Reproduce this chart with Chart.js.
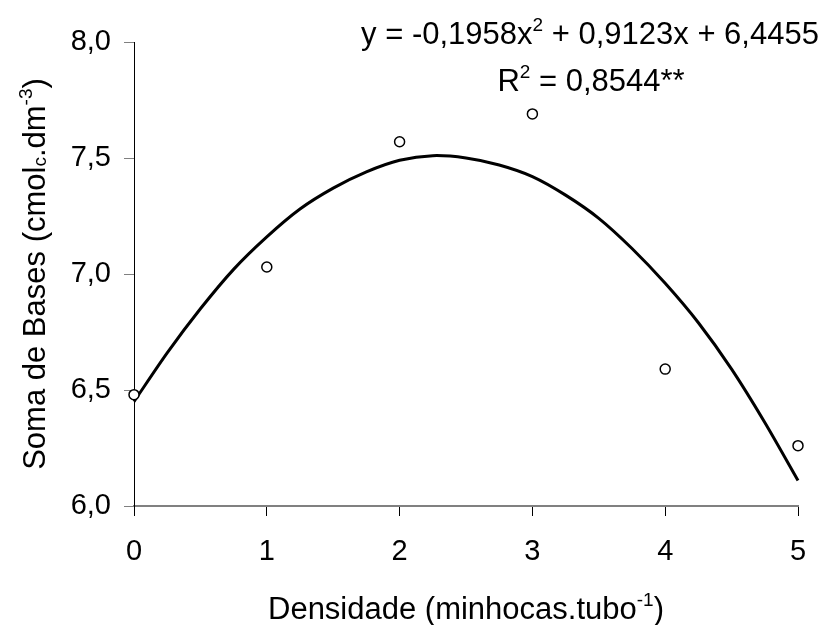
<!DOCTYPE html>
<html>
<head>
<meta charset="utf-8">
<script src="https://cdn.jsdelivr.net/npm/chart.js@4/dist/chart.umd.min.js"></script>
<style>
  body { margin: 0; background: #fff; }
  canvas { display: block; }
</style>
</head>
<body>
<canvas id="chart" width="822" height="625"></canvas>
<script>
// observed values
const densidade = [0, 1, 2, 3, 4, 5];
const somaBases = [6.48, 7.03, 7.57, 7.69, 6.59, 6.26];

// fitted curve
const curvaX = [0, 0.25, 0.5, 0.75, 1, 1.25, 1.5, 1.75, 2, 2.25, 2.5, 2.75, 3, 3.25, 3.5, 3.75, 4, 4.25, 4.5, 4.75, 5];
const curvaY = [6.45, 6.66, 6.85, 7.02, 7.16, 7.28, 7.37, 7.44, 7.49, 7.51, 7.50, 7.47, 7.42, 7.34, 7.24, 7.11, 6.96, 6.79, 6.59, 6.36, 6.11];

const xTicks = [0, 1, 2, 3, 4, 5];
const yTicks = [6.0, 6.5, 7.0, 7.5, 8.0];

// rich text pieces: [text, 'sup' | 'sub' | null]
const eqLine1 = [['y = -0,1958x', null], ['2', 'sup'], [' + 0,9123x + 6,4455', null]];
const eqLine2 = [['R', null], ['2', 'sup'], [' = 0,8544**', null]];
const xTitle = [['Densidade (minhocas.tubo', null], ['-1', 'sup'], [')', null]];
const yTitle = [['Soma de Bases (cmol', null], ['c', 'sub'], ['.dm', null], ['-3', 'sup'], [')', null]];

const FONT = '"Liberation Sans", Arial, sans-serif';

function drawRich(ctx, parts, x, y, size) {
    const small = Math.round(size * 0.62);
    let total = 0;
    parts.forEach(([t, kind]) => {
        ctx.font = `${kind ? small : size}px ${FONT}`;
        total += ctx.measureText(t).width;
    });
    let cx = x - total / 2;
    ctx.textAlign = 'left';
    ctx.textBaseline = 'alphabetic';
    parts.forEach(([t, kind]) => {
        ctx.font = `${kind ? small : size}px ${FONT}`;
        let dy = 0;
        if (kind === 'sup') dy = -size * 0.42;
        if (kind === 'sub') dy = size * 0.02;
        ctx.fillText(t, cx, y + dy);
        cx += ctx.measureText(t).width;
    });
}

const textPlugin = {
    id: 'textPlugin',
    afterDraw(chart) {
        const ctx = chart.ctx;
        ctx.save();
        ctx.fillStyle = '#000';
        drawRich(ctx, eqLine1, 590, 44, 31);
        drawRich(ctx, eqLine2, 591, 91, 31);
        drawRich(ctx, xTitle, 466, 619, 31);
        ctx.translate(45, 274);
        ctx.rotate(-Math.PI / 2);
        drawRich(ctx, yTitle, 0, 0, 31);
        ctx.restore();
    }
};

new Chart(document.getElementById('chart').getContext('2d'), {
    type: 'scatter',
    data: {
        datasets: [
            {
                type: 'line',
                label: 'ajuste',
                data: curvaX.map((x, i) => ({ x: x, y: curvaY[i] })),
                borderColor: '#000',
                borderWidth: 3,
                pointRadius: 0,
                tension: 0.3,
                fill: false,
                clip: false,
                order: 2
            },
            {
                label: 'observado',
                data: densidade.map((x, i) => ({ x: x, y: somaBases[i] })),
                pointStyle: 'circle',
                pointRadius: 5,
                pointBackgroundColor: '#fff',
                pointBorderColor: '#000',
                pointBorderWidth: 1.5,
                clip: false,
                order: 1
            }
        ]
    },
    options: {
        responsive: false,
        animation: false,
        devicePixelRatio: 1,
        layout: { padding: { top: 42, right: 24, left: 0, bottom: 0 } },
        plugins: {
            legend: { display: false },
            tooltip: { enabled: false }
        },
        scales: {
            x: {
                type: 'linear',
                min: 0,
                max: 5,
                afterBuildTicks: scale => { scale.ticks = xTicks.map(v => ({ value: v })); },
                afterFit: scale => {
                    scale.height = 119;
                    scale.paddingLeft = 0;
                    scale.paddingRight = 0;
                },
                ticks: {
                    color: '#000',
                    font: { family: FONT, size: 29 },
                    padding: 19,
                    maxRotation: 0
                },
                grid: { drawOnChartArea: false, drawTicks: true, tickLength: 10, color: '#000' },
                border: { color: '#808080', width: 2 }
            },
            y: {
                min: 6,
                max: 8,
                afterBuildTicks: scale => { scale.ticks = yTicks.map(v => ({ value: v })); },
                afterFit: scale => {
                    scale.width = 134;
                    scale.paddingTop = 0;
                    scale.paddingBottom = 0;
                },
                ticks: {
                    color: '#000',
                    font: { family: FONT, size: 29 },
                    padding: 13,
                    callback: v => v.toFixed(1).replace('.', ',')
                },
                grid: { drawOnChartArea: false, drawTicks: true, tickLength: 10, color: '#808080' },
                border: { color: '#000', width: 1 }
            }
        }
    },
    plugins: [textPlugin]
});
</script>
</body>
</html>
